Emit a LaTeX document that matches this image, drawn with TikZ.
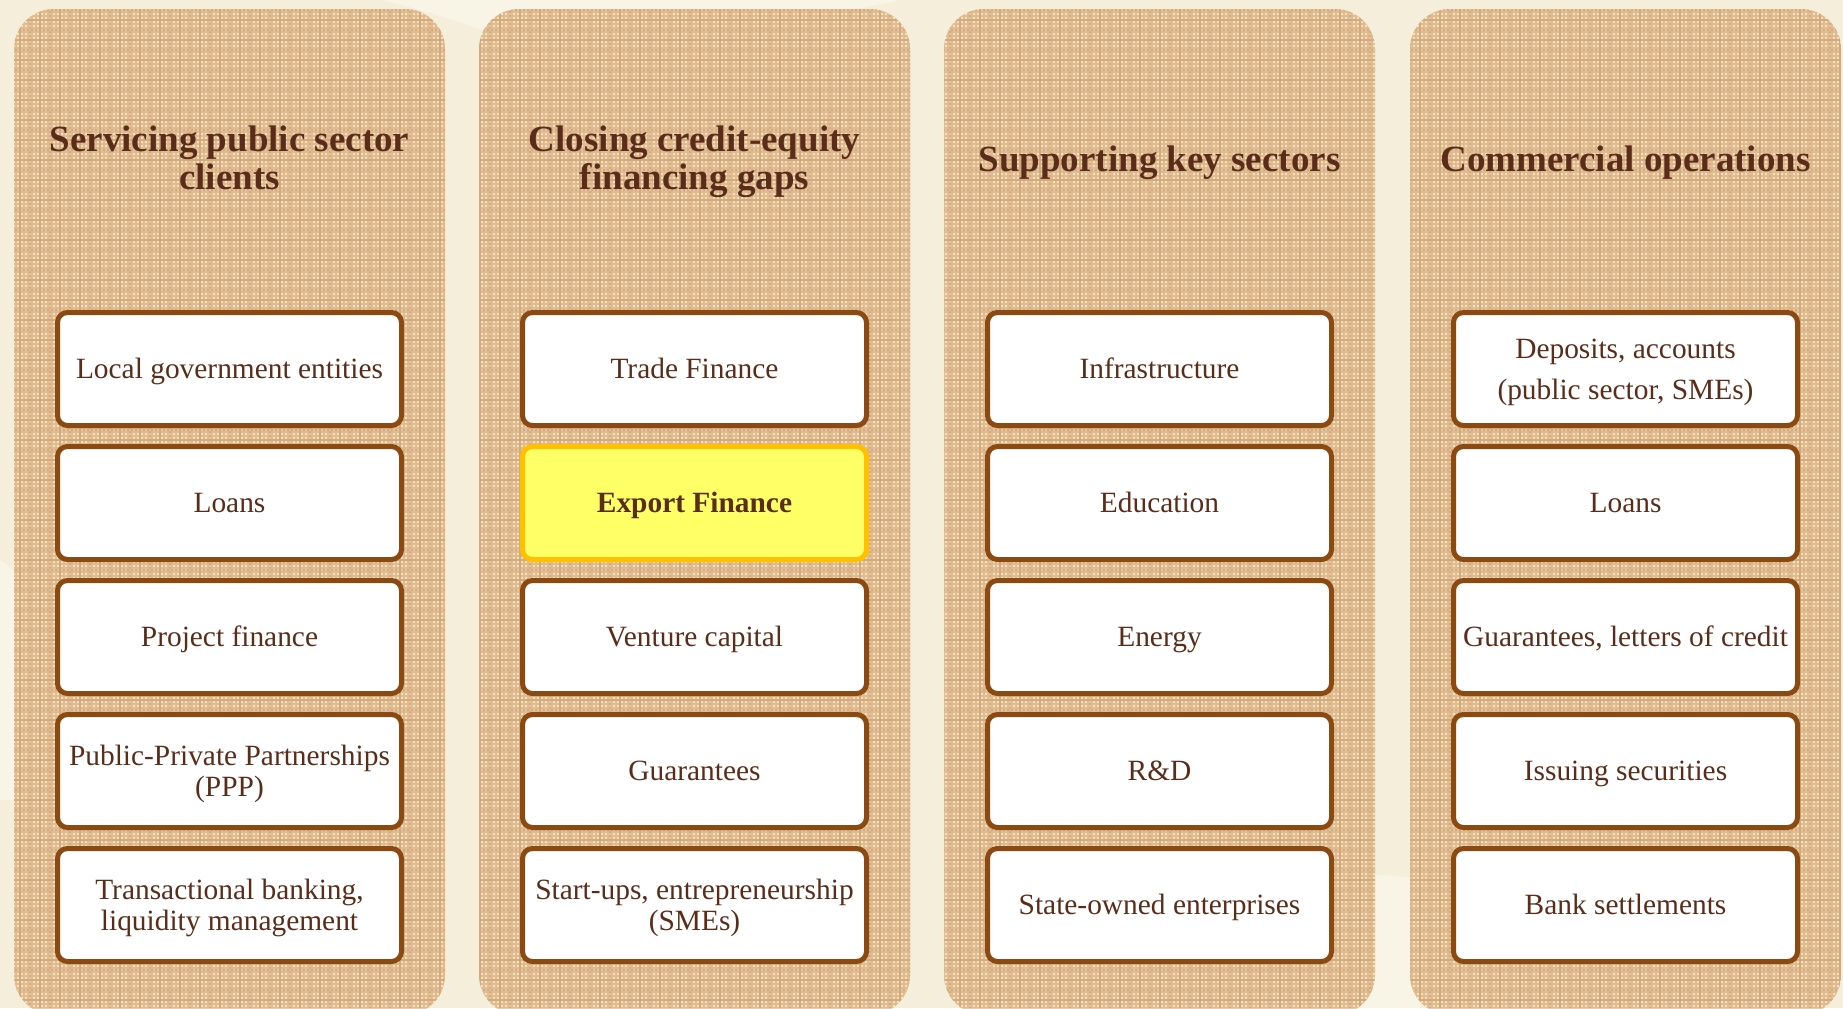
\documentclass[tikz,border=0pt]{standalone}
\usepackage{fontspec}
\setmainfont{Liberation Serif}
\usetikzlibrary{positioning}
\definecolor{cream}{HTML}{F4EEDA}
\definecolor{swirl}{HTML}{F8F4E6}
\definecolor{panelbase}{HTML}{F3E2C2}
\definecolor{plaid}{HTML}{C98C52}
\definecolor{plaiddark}{HTML}{B57640}
\definecolor{ink}{HTML}{5A2D1A}
\definecolor{rim}{HTML}{8A4A12}
\definecolor{hilite}{HTML}{FFFF66}
\definecolor{hirim}{HTML}{FFC000}

\begin{document}
\begin{tikzpicture}[x=0.5pt, y=-0.5pt,
  head/.style = {text=ink, font=\fontsize{18.5}{19}\selectfont\bfseries, align=center,
                 execute at begin node=\rule{0pt}{17pt},
                 execute at end node=\rule[-5pt]{0pt}{0pt}},
  headtwo/.style = {head, execute at begin node=\rule{0pt}{35.3pt}},
  item/.style = {draw=rim, line width=2.5pt, fill=white, rounded corners=5pt,
                 minimum width=172pt, minimum height=56.5pt, inner sep=0pt,
                 text=ink, font=\fontsize{14.7}{15.2}\selectfont, align=center,
                 execute at begin node=\rule{0pt}{12.5pt},
                 execute at end node=\rule[-3.5pt]{0pt}{0pt}},
  itemtwo/.style = {item, execute at begin node=\rule{0pt}{28.7pt}},
  hot/.style = {item, draw=hirim, fill=hilite, font=\fontsize{14.7}{15.2}\selectfont\bfseries}]
\useasboundingbox (0,0) rectangle (1843,1008);
\fill[cream] (0,0) rectangle (1843,1008);
% faint swirls behind the panels
\fill[swirl] (380,0) .. controls (560,40) and (620,120) .. (700,60) .. controls (760,20) and (860,10) .. (900,0) -- cycle;
\fill[swirl] (1150,1008) .. controls (1260,900) and (1330,860) .. (1420,880) -- (1420,1008) -- cycle;
\fill[swirl] (0,560) .. controls (60,600) and (80,700) .. (40,800) -- (0,800) -- cycle;

% panels
\begin{scope}
  \clip[rounded corners=20pt] (14,9) rectangle (445,1015)
                              (479,9) rectangle (910,1015)
                              (944,9) rectangle (1375,1015)
                              (1410,9) rectangle (1841,1015);
  \fill[panelbase] (0,0) rectangle (1843,1008);
  \draw[plaid, line width=0.55pt, opacity=0.45, step=2pt] (0,0) grid (1843,1008);
  \draw[plaiddark, line width=0.7pt, opacity=0.25, step=5pt] (0,0) grid (1843,1008);
\end{scope}

% headings
\node[headtwo] (h1) at (229.5,159) {Servicing public sector\\clients};
\node[headtwo] (h2) at (694.5,159) {Closing credit-equity\\financing gaps};
\node[head] (h3) at (1159.5,159) {Supporting key sectors};
\node[head] (h4) at (1625.5,159) {Commercial operations};

% first column
\node[item] (a1) at (229.5,369) {Local government entities};
\node[item] (a2) at (229.5,503) {Loans};
\node[item] (a3) at (229.5,637) {Project finance};
\node[itemtwo] (a4) at (229.5,771) {Public-Private Partnerships\\(PPP)};
\node[itemtwo] (a5) at (229.5,905) {Transactional banking,\\liquidity management};

% second column
\node[item] (b1) at (694.5,369) {Trade Finance};
\node[hot]  (b2) at (694.5,503) {Export Finance};
\node[item] (b3) at (694.5,637) {Venture capital};
\node[item] (b4) at (694.5,771) {Guarantees};
\node[itemtwo] (b5) at (694.5,905) {Start-ups, entrepreneurship\\(SMEs)};

% third column
\node[item] (c1) at (1159.5,369) {Infrastructure};
\node[item] (c2) at (1159.5,503) {Education};
\node[item] (c3) at (1159.5,637) {Energy};
\node[item] (c4) at (1159.5,771) {R\&D};
\node[item] (c5) at (1159.5,905) {State-owned enterprises};

% fourth column
\node[itemtwo, font=\fontsize{14.7}{20.5}\selectfont,
      execute at begin node=\rule{0pt}{34pt}] (d1) at (1625.5,369) {Deposits, accounts\\(public sector, SMEs)};
\node[item] (d2) at (1625.5,503) {Loans};
\node[item] (d3) at (1625.5,637) {Guarantees, letters of credit};
\node[item] (d4) at (1625.5,771) {Issuing securities};
\node[item] (d5) at (1625.5,905) {Bank settlements};
\end{tikzpicture}
\end{document}
